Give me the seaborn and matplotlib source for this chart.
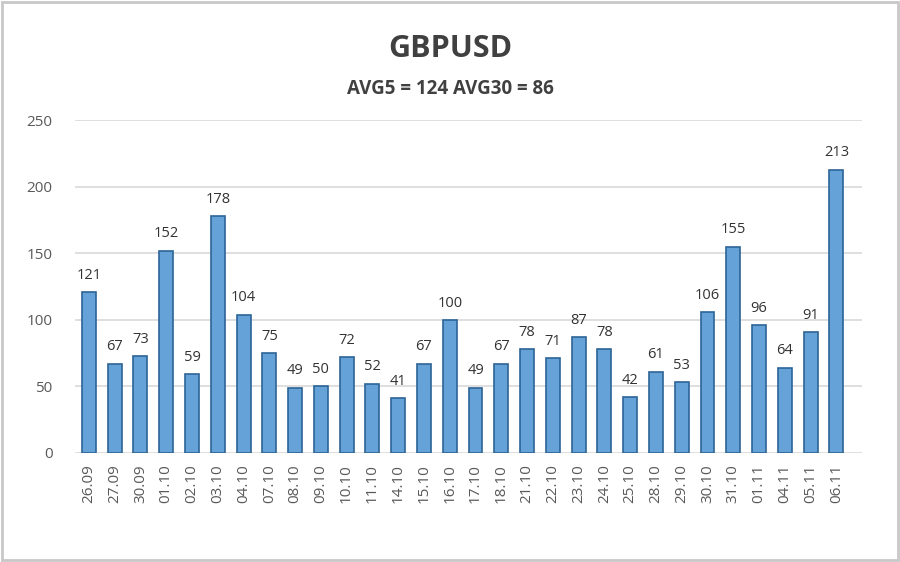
import pandas as pd
import matplotlib.pyplot as plt
import seaborn as sns

# Daily volatility, points
dates = ["26.09", "27.09", "30.09", "01.10", "02.10", "03.10", "04.10", "07.10",
         "08.10", "09.10", "10.10", "11.10", "14.10", "15.10", "16.10", "17.10",
         "18.10", "21.10", "22.10", "23.10", "24.10", "25.10", "28.10", "29.10",
         "30.10", "31.10", "01.11", "04.11", "05.11", "06.11"]
values = [121, 67, 73, 152, 59, 178, 104, 75, 49, 50, 72, 52, 41, 67, 100, 49,
          67, 78, 71, 87, 78, 42, 61, 53, 106, 155, 96, 64, 91, 213]
title = "GBPUSD"
subtitle = "AVG5 = 124 AVG30 = 86"

df = pd.DataFrame({"date": dates, "value": values})

sns.set_style("white")
plt.rcParams['font.family'] = ['Open Sans', 'DejaVu Sans']

fig = plt.figure(figsize=(9, 5.62), dpi=100)
ax = fig.add_axes([0.083, 0.194, 0.875, 0.592])

sns.barplot(data=df, x="date", y="value", color="#64a2d8", width=0.54,
            edgecolor="#2c6496", linewidth=1.2, saturation=1, ax=ax)

for i, v in enumerate(values):
    ax.text(i, v + 7, str(v), ha="center", va="bottom", fontsize=10.5, color="#333333")

ax.set_ylim(0, 250)
ax.set_xlim(-0.55, 30.0)
ax.set_yticks([0, 50, 100, 150, 200, 250])
ax.yaxis.grid(True, color="#d9d9d9", linewidth=1.2)
ax.set_axisbelow(True)
for s in ax.spines.values():
    s.set_visible(False)
ax.tick_params(axis="y", pad=16, labelsize=11, labelcolor="#595959", length=0)
ax.tick_params(axis="x", labelsize=11, labelcolor="#595959", length=0, pad=8)
plt.setp(ax.get_xticklabels(), rotation=90)
ax.set_xlabel("")
ax.set_ylabel("")

fig.text(0.5, 0.912, title, ha="center", va="center", fontsize=22, fontweight="bold", color="#404040")
fig.text(0.5, 0.842, subtitle, ha="center", va="center", fontsize=13.5, fontweight="bold", color="#404040")

# outer frame
fig.patches.append(plt.Rectangle((0.002, 0.003), 0.996, 0.994, transform=fig.transFigure,
                                 fill=False, edgecolor="#c8c8c8", linewidth=2))

fig.savefig("out.png", dpi=100)
